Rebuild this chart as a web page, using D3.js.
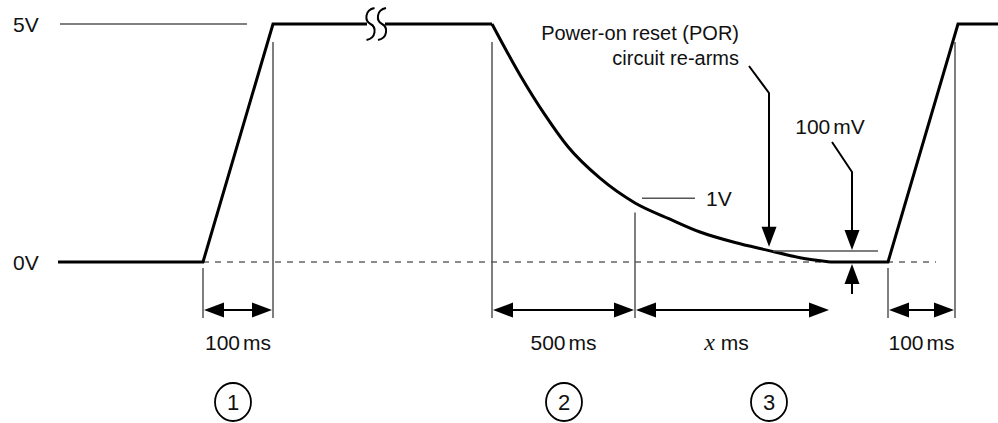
<!DOCTYPE html>
<html><head><meta charset="utf-8">
<script src="https://cdn.jsdelivr.net/npm/d3@7"></script>
<style>
html,body{margin:0;padding:0;background:#fff;}
svg text{font-family:"Liberation Sans",Arial,Helvetica,sans-serif;fill:#111;}
</style></head>
<body><svg id="c" width="998" height="423"></svg>
<script>
// ---- data (schematic units: time position u, voltage V) ----
const levelLabels = ["5V", "0V"];
const levelValues = [5, 0];
const rampUp1 = [{u: 5.8, v: 0}, {u: 20.3, v: 0}, {u: 27.3, v: 5}, {u: 49.2, v: 5}];
const decay = [
  {u: 49.2, v: 5}, {u: 52.0, v: 3.93}, {u: 54.5, v: 3.09}, {u: 56.8, v: 2.42},
  {u: 60.0, v: 1.76}, {u: 63.5, v: 1.24}, {u: 67.0, v: 0.90}, {u: 70.0, v: 0.63},
  {u: 73.5, v: 0.41}, {u: 76.7, v: 0.25}, {u: 80.0, v: 0.09}, {u: 83.0, v: 0}
];
const rampUp2 = [{u: 83.0, v: 0}, {u: 88.8, v: 0}, {u: 95.8, v: 5}, {u: 99.8, v: 5}];
const breakAt = 37.6;
const markers = [20.3, 27.3, 49.2, 63.5, 88.8, 95.5];   // vertical reference lines
const spans = [
  {from: 20.3, to: 27.3, label: "100", unit: "ms"},
  {from: 49.2, to: 63.5, label: "500", unit: "ms"},
  {from: 63.5, to: 83.0, label: "x", unit: "ms"},
  {from: 88.8, to: 95.5, label: "100", unit: "ms"}
];
const phases = [{n: "1", u: 23.3}, {n: "2", u: 56.4}, {n: "3", u: 76.9}];
const porText = ["Power-on reset (POR)", "circuit re-arms"];
const porAt = {u: 76.9, v: 0.28};
const oneVLabel = "1V";
const hundredMV = {label: "100mV", u: 85.2, v: 0.24};

// ---- scales ----
const x = d3.scaleLinear().domain([0, 99.8]).range([0, 998]);
const y = d3.scaleLinear().domain([0, 5]).range([262, 24]);
const svg = d3.select("#c");
const thin = "#555";
const FS = 21;

// level reference lines & labels
svg.append("line").attr("x1", x(6.0)).attr("x2", x(24.7)).attr("y1", y(5)).attr("y2", y(5))
  .attr("stroke", thin).attr("stroke-width", 1.4);
levelLabels.forEach((t, i) => {
  svg.append("text").attr("x", 13).attr("y", y(levelValues[i]) + 8).attr("font-size", FS).text(t);
});

// dashed 0V line
svg.append("line").attr("x1", x(20.3)).attr("x2", x(93.6)).attr("y1", y(0)).attr("y2", y(0))
  .attr("stroke", "#666").attr("stroke-width", 1.5).attr("stroke-dasharray", "6,6");

// vertical marker lines
const vTop = [y(0) + 6, y(5) + 18, y(5) + 18, y(1.04), y(0) + 6, y(5) + 18];
markers.forEach((m, i) => {
  svg.append("line").attr("x1", x(m)).attr("x2", x(m)).attr("y1", vTop[i]).attr("y2", 318)
    .attr("stroke", thin).attr("stroke-width", 1.5);
});

// waveform
const lineL = d3.line().x(d => x(d.u)).y(d => y(d.v));
const wave = {fill: "none", stroke: "#000", "stroke-width": 3, "stroke-linejoin": "miter"};
function styl(sel, o) { Object.entries(o).forEach(([k, v]) => sel.attr(k, v)); return sel; }
const seg1 = rampUp1.slice(0, 3).concat([{u: breakAt - 0.9, v: 5}]);
const seg2 = [{u: breakAt + 0.9, v: 5}, {u: 49.2, v: 5}];
styl(svg.append("path").attr("d", lineL(seg1)), wave);
styl(svg.append("path").attr("d", lineL(seg2)), wave);
styl(svg.append("path").attr("d", d3.line().x(d => x(d.u)).y(d => y(d.v)).curve(d3.curveMonotoneX)(decay)), wave);
styl(svg.append("path").attr("d", lineL(rampUp2)), wave);

// break symbol (two S strokes)
[-0.55, 0.6].forEach(o => {
  const cx = x(breakAt + o), cy = y(5);
  svg.append("path")
    .attr("d", `M${cx + 4},${cy - 16} C${cx - 6},${cy - 14} ${cx - 6},${cy - 3} ${cx},${cy}`
      + ` C${cx + 6},${cy + 3} ${cx + 6},${cy + 14} ${cx - 4},${cy + 16}`)
    .attr("fill", "none").attr("stroke", "#000").attr("stroke-width", 2);
});

// arrowheads
function arrowHead(tx, ty, dir) {
  const L = 20, h = 7.5;
  let p;
  if (dir === "l") p = [[tx, ty], [tx + L, ty - h], [tx + L, ty + h]];
  if (dir === "r") p = [[tx, ty], [tx - L, ty - h], [tx - L, ty + h]];
  if (dir === "d") p = [[tx, ty], [tx - h, ty - L], [tx + h, ty - L]];
  if (dir === "u") p = [[tx, ty], [tx - h, ty + L], [tx + h, ty + L]];
  svg.append("path").attr("d", "M" + p.join("L") + "Z").attr("fill", "#000");
}

// span dimension arrows
const ay = 310;
spans.forEach(s => {
  svg.append("line").attr("x1", x(s.from) + 4).attr("x2", x(s.to) - 4).attr("y1", ay).attr("y2", ay)
    .attr("stroke", "#000").attr("stroke-width", 2);
  arrowHead(x(s.from) + 1, ay, "l");
  arrowHead(x(s.to) - 1, ay, "r");
  const t = svg.append("text").attr("x", (x(s.from) + x(s.to)) / 2 + (s.label === "x" ? -6 : 0))
    .attr("y", 350).attr("text-anchor", "middle").attr("font-size", FS);
  if (s.label === "x") {
    t.append("tspan").attr("font-family", "Liberation Serif,Times New Roman,serif")
      .attr("font-style", "italic").attr("font-size", 24).text("x");
    t.append("tspan").attr("dx", 6).text("ms");
  } else {
    t.append("tspan").text(s.label);
    t.append("tspan").attr("dx", 3).text(s.unit);
  }
});

// 1V marker
svg.append("line").attr("x1", x(64.2)).attr("x2", x(69.5)).attr("y1", y(1.34)).attr("y2", y(1.34))
  .attr("stroke", thin).attr("stroke-width", 1.5);
svg.append("text").attr("x", x(70.6)).attr("y", y(1.34) + 8).attr("font-size", FS).text(oneVLabel);

// POR annotation
porText.forEach((t, i) => {
  svg.append("text").attr("x", 739).attr("y", 40 + i * 25).attr("text-anchor", "end")
    .attr("font-size", FS - 1).text(t);
});
const px = x(porAt.u);
svg.append("path").attr("d", `M${px - 20},66 L${px},93 L${px},${y(porAt.v) - 18}`)
  .attr("fill", "none").attr("stroke", "#000").attr("stroke-width", 2);
arrowHead(px, y(porAt.v) - 2, "d");

// 100mV annotation
const mx = x(hundredMV.u);
const mvY = y(0) - 11;
svg.append("line").attr("x1", x(77.3)).attr("x2", x(87.8)).attr("y1", mvY).attr("y2", mvY)
  .attr("stroke", thin).attr("stroke-width", 1.5);
const mvT = svg.append("text").attr("x", mx - 22).attr("y", 134).attr("text-anchor", "middle")
  .attr("font-size", FS);
mvT.append("tspan").text("100");
mvT.append("tspan").attr("dx", 3).text("mV");
svg.append("path").attr("d", `M${mx - 20},142 L${mx},172 L${mx},${mvY - 18}`)
  .attr("fill", "none").attr("stroke", "#000").attr("stroke-width", 2);
arrowHead(mx, mvY - 1, "d");
svg.append("line").attr("x1", mx).attr("x2", mx).attr("y1", y(0) + 18).attr("y2", 294)
  .attr("stroke", "#000").attr("stroke-width", 2);
arrowHead(mx, y(0) + 2, "u");

// phase circles
phases.forEach(p => {
  svg.append("ellipse").attr("cx", x(p.u)).attr("cy", 402).attr("rx", 18).attr("ry", 19)
    .attr("fill", "none").attr("stroke", "#000").attr("stroke-width", 1.8);
  svg.append("text").attr("x", x(p.u)).attr("y", 410).attr("text-anchor", "middle")
    .attr("font-size", 22).text(p.n);
});
</script></body></html>
